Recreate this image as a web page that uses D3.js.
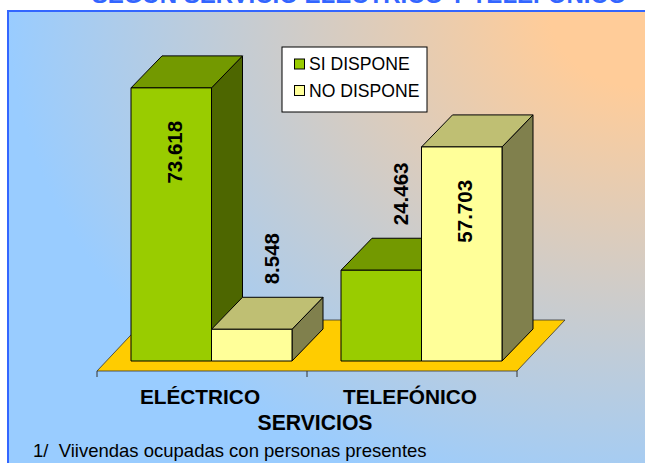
<!DOCTYPE html>
<html><head><meta charset="utf-8">
<script src="https://cdn.jsdelivr.net/npm/d3@7"></script>
<style>html,body{margin:0;padding:0;background:#fff;overflow:hidden}svg{display:block}</style>
</head><body>
<script>
const categories = ["ELÉCTRICO", "TELEFÓNICO"];
const seriesNames = ["SI DISPONE", "NO DISPONE"];
const siDispone = [73618, 24463];
const noDispone = [8548, 57703];
const titleText = "SEGÚN SERVICIO ELÉCTRICO Y TELEFÓNICO";
const axisTitle = "SERVICIOS";
const footnote = "1/  Viivendas ocupadas con personas presentes";

const W = 645, H = 463;
const FONT = "Arial, 'Liberation Sans', sans-serif";
const colors = {
  "SI DISPONE": {front: "#99CC00", top: "#739900", side: "#4D6600"},
  "NO DISPONE": {front: "#FFFF99", top: "#BFBF73", side: "#80804D"}
};
const locale = d3.formatLocale({decimal: ",", thousands: ".", grouping: [3], currency: ["", ""]});
const fmt = locale.format(",");

const svg = d3.select("body").append("svg").attr("width", W).attr("height", H);

const defs = svg.append("defs");
const grad = defs.append("radialGradient").attr("id", "bg")
  .attr("gradientUnits", "userSpaceOnUse")
  .attr("cx", 645).attr("cy", 11).attr("fx", 645).attr("fy", 11).attr("r", 637)
  .attr("gradientTransform", "translate(645,11) scale(1,0.8) translate(-645,-11)");
grad.append("stop").attr("offset", 0).attr("stop-color", "#FFCC99");
grad.append("stop").attr("offset", 0.15).attr("stop-color", "#FFCC99");
grad.append("stop").attr("offset", 1).attr("stop-color", "#99CCFF");

// chart area
svg.append("rect").attr("x", 8).attr("y", 11).attr("width", 700).attr("height", 500)
  .attr("fill", "url(#bg)").attr("stroke", "#3366FF").attr("stroke-width", 2);

// title (cut off at top)
svg.append("text").attr("x", 359).attr("y", 2.5).attr("text-anchor", "middle")
  .attr("font-family", FONT).attr("font-weight", "bold").attr("font-size", 24)
  .attr("fill", "#3366FF").text(titleText);

// scales
const x = d3.scaleBand().domain(categories).range([97, 517]).padding(0);
const xi = d3.scaleBand().domain(seriesNames).range([34, 195]).padding(0);
const y = d3.scaleLinear().domain([0, 80000]).range([361, 361 - 296.8]);
const DX = 31, DY = -32;       // bar depth
const FDX = 48, FDY = -51;     // floor depth
const floorY = 371;

// floor
const fx0 = x.range()[0], fx1 = x.range()[1];
svg.append("polygon")
  .attr("points", [[fx0, floorY], [fx1, floorY], [fx1 + FDX, floorY + FDY], [fx0 + FDX, floorY + FDY]].map(p => p.join(",")).join(" "))
  .attr("fill", "#FFCC00").attr("stroke", "#333").attr("stroke-width", 0.8);

// axis ticks at band boundaries
const tickXs = categories.map(c => x(c)).concat([x(categories[categories.length - 1]) + x.bandwidth()]);
svg.selectAll("line.tick").data(tickXs).join("line").attr("class", "tick")
  .attr("x1", d => d).attr("x2", d => d).attr("y1", floorY).attr("y2", floorY + 6)
  .attr("stroke", "#333").attr("stroke-width", 1);

// bars
const data = [];
categories.forEach((c, i) => {
  data.push({cat: c, s: seriesNames[0], v: siDispone[i]});
  data.push({cat: c, s: seriesNames[1], v: noDispone[i]});
});
const g = svg.append("g").attr("stroke", "#000").attr("stroke-width", 1).attr("stroke-linejoin", "round");
data.forEach(d => {
  const x0 = x(d.cat) + xi(d.s), x1 = x0 + xi.bandwidth();
  const y0 = y(0), y1 = y(d.v);
  const col = colors[d.s];
  const pts = a => a.map(p => p.join(",")).join(" ");
  g.append("polygon").attr("fill", col.side)
    .attr("points", pts([[x1, y0], [x1 + DX, y0 + DY], [x1 + DX, y1 + DY], [x1, y1]]));
  g.append("polygon").attr("fill", col.top)
    .attr("points", pts([[x0, y1], [x1, y1], [x1 + DX, y1 + DY], [x0 + DX, y1 + DY]]));
  g.append("rect").attr("fill", col.front)
    .attr("x", x0).attr("y", y1).attr("width", x1 - x0).attr("height", y0 - y1);
});

// value labels
data.forEach(d => {
  const x0 = x(d.cat) + xi(d.s);
  const cx0 = x0 + xi.bandwidth() / 2;
  const top = y(d.v);
  const inside = d.v > 40000;
  const lx = inside ? cx0 + 3 : cx0 + 19.5;
  const ly = inside ? top + 33 : top - 45;
  svg.append("text")
    .attr("transform", `translate(${lx},${ly}) rotate(-90)`)
    .attr("text-anchor", inside ? "end" : "start")
    .attr("dy", "0.36em")
    .attr("font-family", FONT).attr("font-weight", "bold").attr("font-size", 20.5)
    .attr("fill", "#000").text(fmt(d.v));
});

// category labels
svg.selectAll("text.cat").data(categories).join("text").attr("class", "cat")
  .attr("x", d => x(d) + x.bandwidth() / 2 - 2).attr("y", 404)
  .attr("text-anchor", "middle").attr("font-family", FONT).attr("font-weight", "bold")
  .attr("font-size", 20.8).attr("fill", "#000").text(d => d);

svg.append("text").attr("x", 315).attr("y", 430).attr("text-anchor", "middle")
  .attr("font-family", FONT).attr("font-weight", "bold").attr("font-size", 21.2)
  .attr("fill", "#000").text(axisTitle);

svg.append("text").attr("x", 33).attr("y", 457).style("white-space", "pre")
  .attr("font-family", FONT).attr("font-size", 18.5).attr("fill", "#000").text(footnote);

// legend
const lg = svg.append("g");
lg.append("rect").attr("x", 282).attr("y", 47).attr("width", 145).attr("height", 65)
  .attr("fill", "#fff").attr("stroke", "#000").attr("stroke-width", 1);
seriesNames.forEach((s, i) => {
  const yy = 70 + i * 26.5;
  lg.append("rect").attr("x", 294.5).attr("y", yy - 11).attr("width", 10).attr("height", 10)
    .attr("fill", colors[s].front).attr("stroke", "#000").attr("stroke-width", 1);
  lg.append("text").attr("x", 309).attr("y", yy)
    .attr("font-family", FONT).attr("font-size", 17.6).attr("fill", "#000").text(s);
});
</script>
</body></html>
